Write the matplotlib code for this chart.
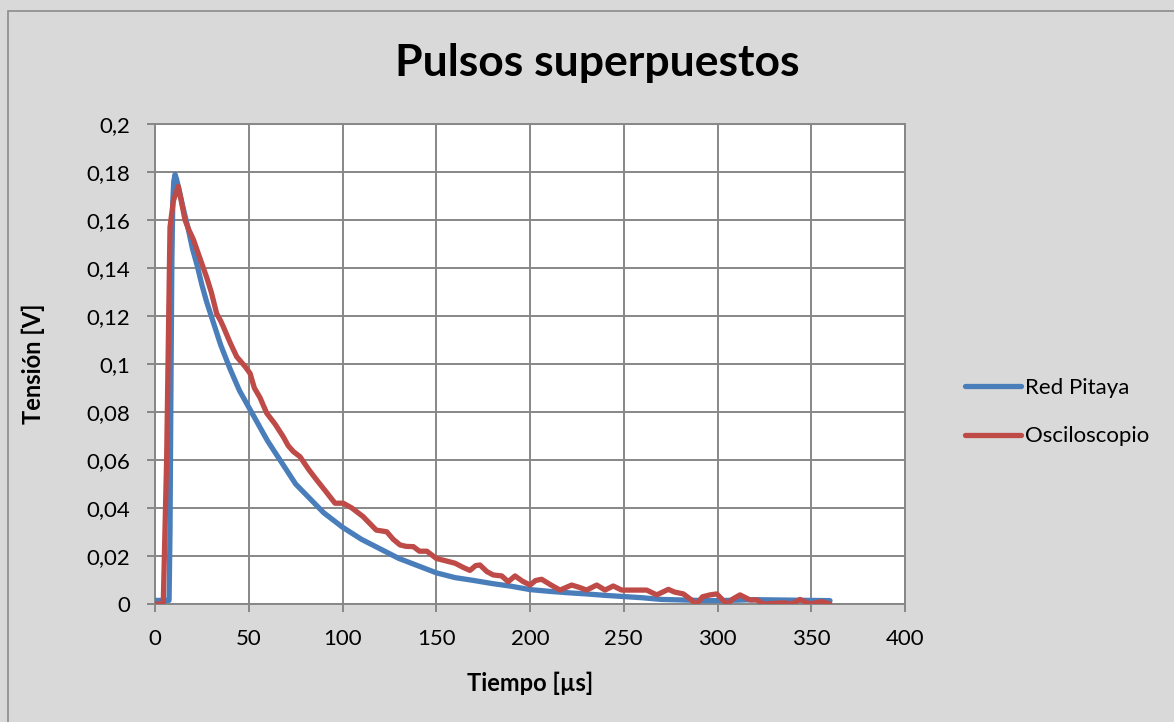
import matplotlib.pyplot as plt
from matplotlib.patches import Rectangle
from matplotlib.ticker import FuncFormatter

plt.rcParams['font.family'] = ['Lato', 'DejaVu Sans']

# Red Pitaya capture
rp_t = [0, 2, 4, 6, 7.5, 8, 8.5, 9, 9.5, 10, 10.7, 11.5, 13, 15, 17.5, 20,
        22.5, 25, 27.5, 30, 32.5, 35, 37.5, 40, 45, 50, 55, 60, 65, 70, 75,
        80, 85, 90, 95, 100, 110, 120, 130, 140, 150, 160, 170, 180, 190,
        200, 210, 220, 230, 240, 250, 260, 270, 280, 290, 300, 310, 320, 330,
        340, 350, 360]
rp_v = [0.0015, 0.0015, 0.0015, 0.0015, 0.0015, 0.03, 0.09, 0.143, 0.168,
        0.176, 0.179, 0.177, 0.172, 0.165, 0.157, 0.148, 0.141, 0.133, 0.126,
        0.120, 0.114, 0.108, 0.103, 0.098, 0.089, 0.082, 0.075, 0.068, 0.062,
        0.056, 0.050, 0.046, 0.042, 0.038, 0.035, 0.032, 0.027, 0.023, 0.019,
        0.016, 0.013, 0.011, 0.0098, 0.0085, 0.0074, 0.006, 0.0053, 0.0047,
        0.0042, 0.0036, 0.0031, 0.0026, 0.0019, 0.0017, 0.0015, 0.0014,
        0.0016, 0.0018, 0.0017, 0.0016, 0.0015, 0.0014]

# Oscilloscope capture
osc_t = [0, 4.4, 6.2, 8, 9.8, 12.4, 14, 16, 18, 20.4, 24, 27.6, 30, 32.9, 35,
         36.4, 40, 43.6, 48, 50.7, 53, 56, 59.6, 64, 68.4, 71, 73.8, 77.3, 82,
         86.2, 91, 96, 100.4, 105, 111, 114, 118, 123.6, 127, 130.7, 134,
         137.8, 141, 145, 150, 155, 160, 165, 168, 171, 173.3, 177, 180.4,
         184.9, 188.4, 192, 196, 200, 203, 206.2, 211, 216, 222.2, 226, 230.2,
         235.6, 240, 244.4, 248.9, 262.2, 267.6, 273.8, 277, 281.8, 288.9, 292,
         296, 299.6, 304.9, 308, 312, 317.3, 321, 324.4, 335.1, 339.6, 344,
         349.3, 355.6, 360]
osc_v = [0, 0, 0.06, 0.157, 0.168, 0.174, 0.168, 0.160, 0.156, 0.152, 0.144,
         0.136, 0.130, 0.121, 0.118, 0.1156, 0.109, 0.103, 0.099, 0.0961,
         0.090, 0.086, 0.0795, 0.075, 0.0697, 0.066, 0.0635, 0.0614, 0.056,
         0.0517, 0.047, 0.042, 0.042, 0.040, 0.0364, 0.034, 0.0308, 0.0301,
         0.027, 0.0246, 0.024, 0.0239, 0.022, 0.022, 0.019, 0.018, 0.017,
         0.015, 0.014, 0.016, 0.01625, 0.0135, 0.0121, 0.0117, 0.0093, 0.0117,
         0.0095, 0.0079, 0.0098, 0.0103, 0.008, 0.0058, 0.0079, 0.007, 0.0058,
         0.0079, 0.0058, 0.0075, 0.0058, 0.0058, 0.0038, 0.0061, 0.005, 0.0042,
         0.0, 0.003, 0.0038, 0.0042, 0.0, 0.002, 0.0038, 0.0017, 0.0017, 0.0,
         0.0005, 0.0, 0.0019, 0.0, 0.001, 0.0]

bg = '#d9d9d9'
grid_c = '#878787'

fig = plt.figure(figsize=(11.74, 7.22), dpi=100, facecolor=bg)
# outer chart border (only top and left edges fall inside the image)
fig.patches.append(Rectangle((8 / 1174, -0.1), 1.2, 1.1 - 11 / 722,
                             transform=fig.transFigure, fill=False,
                             edgecolor='#8c8c8c', linewidth=1.2))
ax = fig.add_axes([155 / 1174, 1 - 604 / 722, 750 / 1174, 480 / 722])
ax.set_facecolor('white')

ax.plot(rp_t, rp_v, color='#4a7ebb', linewidth=3.8, label='Red Pitaya',
        solid_capstyle='round', zorder=3)
ax.plot(osc_t, osc_v, color='#be4b48', linewidth=3.8, label='Osciloscopio',
        solid_capstyle='round', zorder=4)

ax.set_xlim(0, 400)
ax.set_ylim(0, 0.2)
ax.set_xticks(range(0, 401, 50))
ax.set_yticks([i * 0.02 for i in range(11)])
comma = FuncFormatter(lambda v, p: '{:g}'.format(round(v, 4)).replace('.', ','))
ax.xaxis.set_major_formatter(comma)
ax.yaxis.set_major_formatter(comma)
ax.grid(True, color=grid_c, linewidth=1.4)
ax.set_axisbelow(True)
for s in ax.spines.values():
    s.set_color(grid_c)
    s.set_linewidth(1.4)
ax.tick_params(axis='both', direction='out', length=6, width=1.4,
               color=grid_c, labelsize=16)
ax.tick_params(axis='x', pad=12)
ax.tick_params(axis='y', pad=12)

fig.text(597 / 1174, 1 - 63 / 722, 'Pulsos superpuestos', fontsize=32,
         fontweight='bold', ha='center', va='center')
ax.set_xlabel('Tiempo [µs]', fontsize=17, fontweight='bold')
ax.set_ylabel('Tensión [V]', fontsize=17, fontweight='bold')
ax.xaxis.set_label_coords((530 - 155) / 750, (604 - 683) / 480)
ax.yaxis.set_label_coords((33 - 155) / 750, 0.5)
ax.xaxis.label.set_va('center')
ax.yaxis.label.set_va('center')

fig.legend(loc='center left', bbox_to_anchor=(945 / 1174, 1 - 412 / 722),
           frameon=False, fontsize=16, handlelength=2.5, handletextpad=0.18,
           labelspacing=1.3)

fig.savefig('out.png', dpi=100, facecolor=bg)
